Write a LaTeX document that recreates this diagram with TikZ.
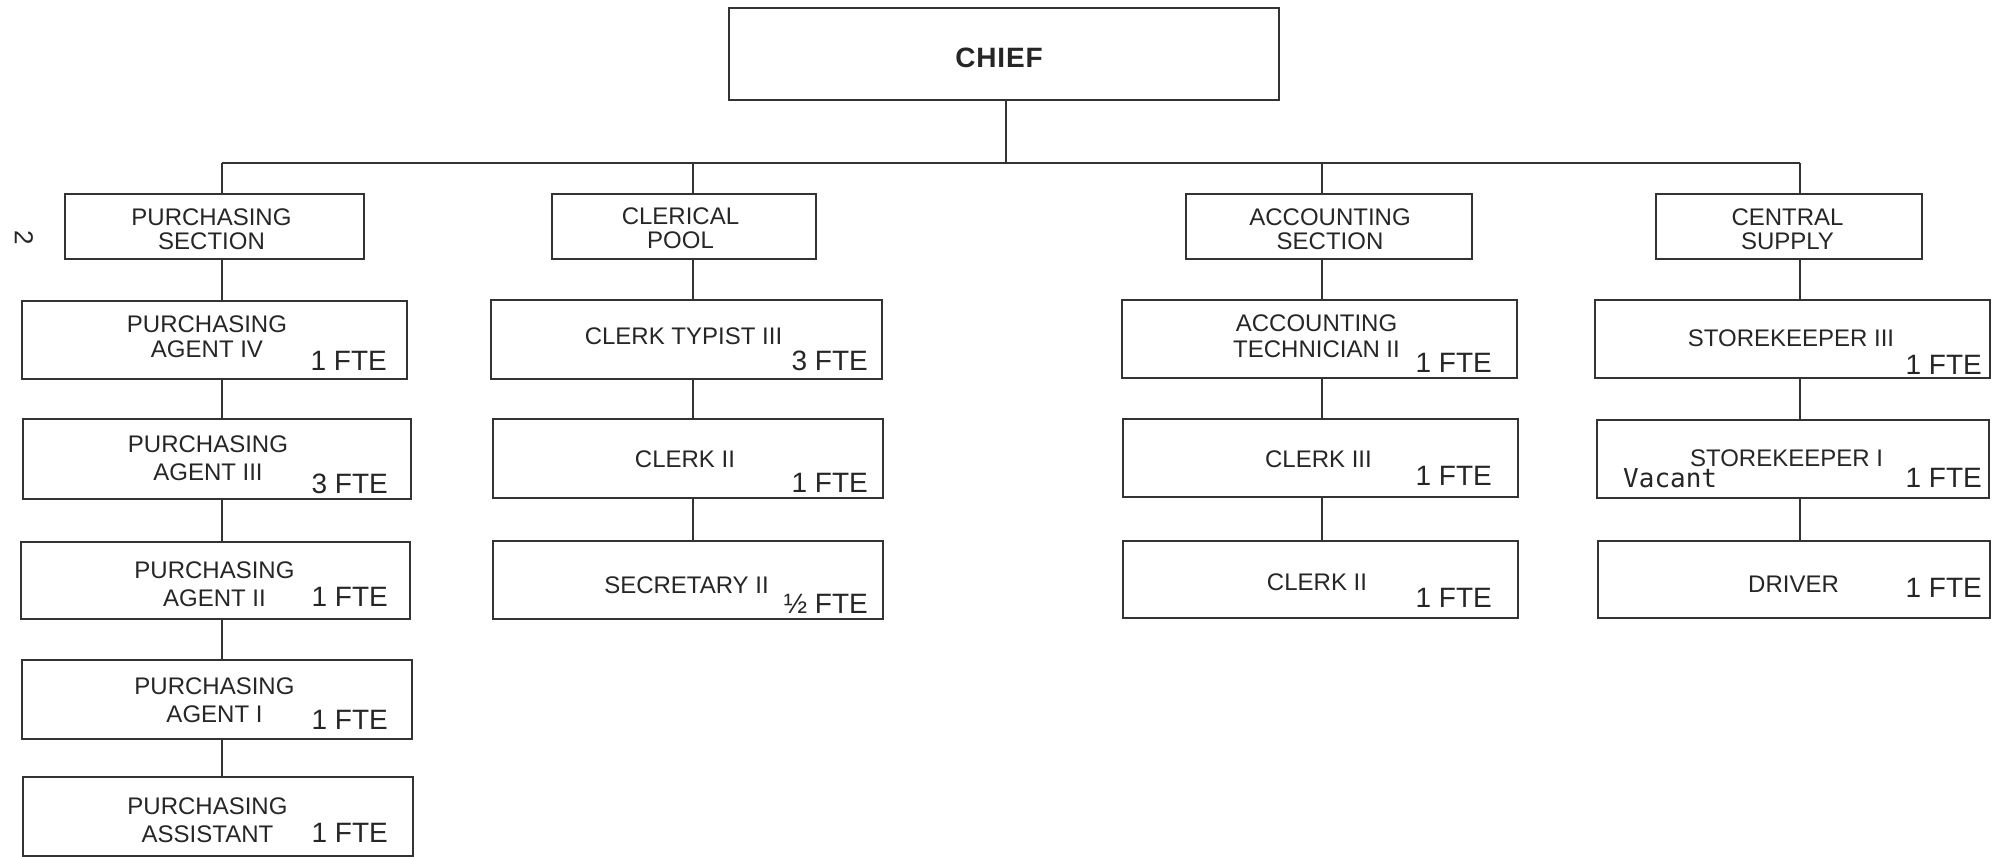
\documentclass[tikz,border=0pt]{standalone}
\usepackage{fontspec}
\setmainfont{Liberation Sans}
\newfontfamily\typewriter{DejaVu Sans Mono}
\begin{document}
\begin{tikzpicture}[x=1pt,y=-1pt,
  box/.style={draw=black!80,line width=1.6pt,rectangle,inner sep=0pt},
  link/.style={draw=black!80,line width=1.6pt},
  % two-line labels: anchored at the baseline of the last line, #1 = leading
  lbl/.style={font=\fontsize{24}{#1}\selectfont,text=black!85,align=center,anchor=base,inner sep=0pt},
  lbl/.default=26,
  fte/.style={font=\fontsize{28}{30}\selectfont,text=black!85,anchor=base east,inner sep=0pt},
  headlbl/.style={font=\fontsize{28}{30}\selectfont\bfseries\addfontfeature{LetterSpace=3},text=black!85,anchor=base,inner sep=0pt}]
\useasboundingbox (0,0) rectangle (1998,857);

% ---- boxes ----
\node[box,minimum width=550,minimum height=92] (chief) at (1004,54) {};
\node[box,minimum width=299,minimum height=65] (ps) at (214.5,226.5) {};
\node[box,minimum width=264,minimum height=65] (cp) at (684,226.5) {};
\node[box,minimum width=286,minimum height=65] (as) at (1329,226.5) {};
\node[box,minimum width=266,minimum height=65] (cs) at (1789,226.5) {};

\node[box,minimum width=385,minimum height=78] (pa4) at (214.5,340) {};
\node[box,minimum width=388,minimum height=80] (pa3) at (217,459) {};
\node[box,minimum width=389,minimum height=77] (pa2) at (215.5,580.5) {};
\node[box,minimum width=390,minimum height=79] (pa1) at (217,699.5) {};
\node[box,minimum width=390,minimum height=79] (pas) at (218,816.5) {};

\node[box,minimum width=391,minimum height=79] (ct3) at (686.5,339.5) {};
\node[box,minimum width=390,minimum height=79] (cl2) at (688,458.5) {};
\node[box,minimum width=390,minimum height=78] (sec) at (688,580) {};

\node[box,minimum width=395,minimum height=78] (at2) at (1319.5,339) {};
\node[box,minimum width=395,minimum height=78] (cl3) at (1320.5,458) {};
\node[box,minimum width=395,minimum height=77] (cl2b) at (1320.5,579.5) {};

\node[box,minimum width=395,minimum height=78] (sk3) at (1792.5,339) {};
\node[box,minimum width=392,minimum height=78] (sk1) at (1793,459) {};
\node[box,minimum width=392,minimum height=77] (drv) at (1794,579.5) {};

% ---- connector guide coordinates ----
\coordinate (bus) at (0,163);
\coordinate (k0) at (1006,0);
\coordinate (k1) at (222,0);
\coordinate (k2) at (693,0);
\coordinate (k3) at (1322,0);
\coordinate (k4) at (1800,0);

% ---- connectors ----
\draw[link] (k0 |- chief.south) -- (k0 |- bus);
\draw[link] (k1 |- bus) -- (k4 |- bus);
\draw[link] (k1 |- bus) -- (k1 |- ps.north);
\draw[link] (k2 |- bus) -- (k2 |- cp.north);
\draw[link] (k3 |- bus) -- (k3 |- as.north);
\draw[link] (k4 |- bus) -- (k4 |- cs.north);

\draw[link] (k1 |- ps.south) -- (k1 |- pa4.north);
\draw[link] (k1 |- pa4.south) -- (k1 |- pa3.north);
\draw[link] (k1 |- pa3.south) -- (k1 |- pa2.north);
\draw[link] (k1 |- pa2.south) -- (k1 |- pa1.north);
\draw[link] (k1 |- pa1.south) -- (k1 |- pas.north);

\draw[link] (k2 |- cp.south) -- (k2 |- ct3.north);
\draw[link] (k2 |- ct3.south) -- (k2 |- cl2.north);
\draw[link] (k2 |- cl2.south) -- (k2 |- sec.north);

\draw[link] (k3 |- as.south) -- (k3 |- at2.north);
\draw[link] (k3 |- at2.south) -- (k3 |- cl3.north);
\draw[link] (k3 |- cl3.south) -- (k3 |- cl2b.north);

\draw[link] (k4 |- cs.south) -- (k4 |- sk3.north);
\draw[link] (k4 |- sk3.south) -- (k4 |- sk1.north);
\draw[link] (k4 |- sk1.south) -- (k4 |- drv.north);

% ---- titles ----
\node[headlbl] (chief-t) at (999,67) {CHIEF};
\node[lbl=24] (ps-t) at (211.5,249) {PURCHASING\\SECTION};
\node[lbl=24] (cp-t) at (680.5,248) {CLERICAL\\POOL};
\node[lbl=24] (as-t) at (1330,249) {ACCOUNTING\\SECTION};
\node[lbl=24] (cs-t) at (1787.5,249) {CENTRAL\\SUPPLY};

\node[lbl=25] (pa4-t) at (207,357) {PURCHASING\\AGENT IV};
\node[fte] (pa4-f) at (387,370) {1 FTE};
\node[lbl=28] (pa3-t) at (208,480) {PURCHASING\\AGENT III};
\node[fte] (pa3-f) at (388,493) {3 FTE};
\node[lbl=28] (pa2-t) at (214.5,606) {PURCHASING\\AGENT II};
\node[fte] (pa2-f) at (388,606) {1 FTE};
\node[lbl=28] (pa1-t) at (214.5,722) {PURCHASING\\AGENT I};
\node[fte] (pa1-f) at (388,729) {1 FTE};
\node[lbl=28] (pas-t) at (207.5,842) {PURCHASING\\ASSISTANT};
\node[fte] (pas-f) at (388,842) {1 FTE};

\node[lbl] (ct3-t) at (683.5,344) {CLERK TYPIST III};
\node[fte] (ct3-f) at (868,370) {3 FTE};
\node[lbl] (cl2-t) at (685,467) {CLERK II};
\node[fte] (cl2-f) at (868,492) {1 FTE};
\node[lbl] (sec-t) at (686.5,593) {SECRETARY II};
\node[fte] (sec-f) at (868,613) {½ FTE};

\node[lbl=26] (at2-t) at (1316.5,357) {ACCOUNTING\\TECHNICIAN II};
\node[fte] (at2-f) at (1492,372) {1 FTE};
\node[lbl] (cl3-t) at (1318.5,467) {CLERK III};
\node[fte] (cl3-f) at (1492,485) {1 FTE};
\node[lbl] (cl2b-t) at (1317,590) {CLERK II};
\node[fte] (cl2b-f) at (1492,607) {1 FTE};

\node[lbl] (sk3-t) at (1791,346) {STOREKEEPER III};
\node[fte] (sk3-f) at (1982,374) {1 FTE};
\node[lbl] (sk1-t) at (1786.5,466) {STOREKEEPER I};
\node[font=\fontsize{26}{28}\typewriter,text=black!85,anchor=base west,inner sep=0pt] (sk1-v) at (1623,487) {Vacant};
\node[fte] (sk1-f) at (1982,487) {1 FTE};
\node[lbl] (drv-t) at (1793.5,592) {DRIVER};
\node[fte] (drv-f) at (1982,597) {1 FTE};

% ---- page number ----
\node[font=\fontsize{26}{28}\selectfont,text=black!85,rotate=-90,inner sep=0pt] (pageno) at (24,238) {2};
\end{tikzpicture}
\end{document}
